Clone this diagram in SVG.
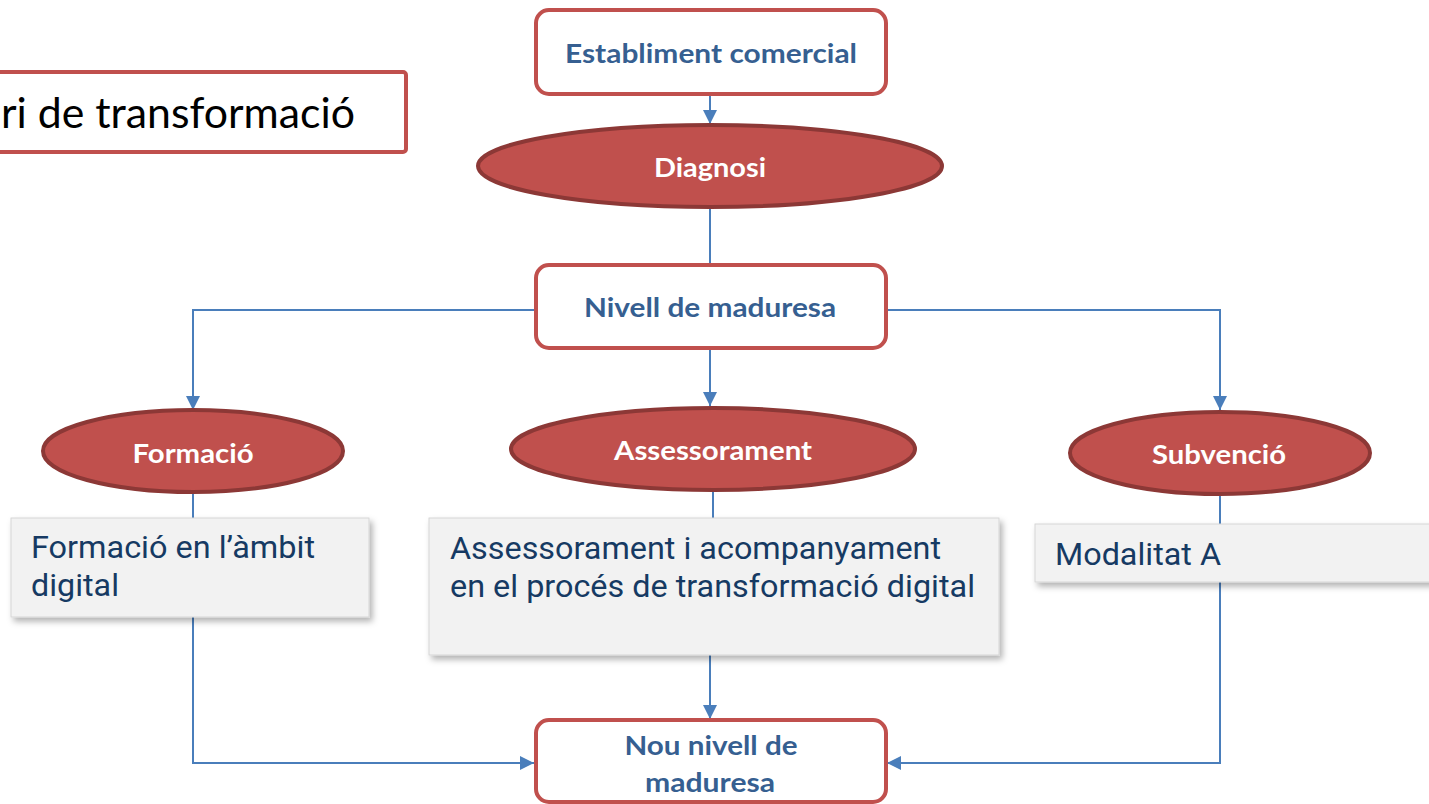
<svg xmlns="http://www.w3.org/2000/svg" width="1429" height="804" viewBox="0 0 1429 804">
<defs>
<style>
.rbox{fill:#ffffff;stroke:#C0504D;stroke-width:4}
.ell{fill:#C0504D;stroke:#8C3836;stroke-width:4}
.gbox{fill:#F2F2F2;stroke:#D6D6D6;stroke-width:1;filter:url(#sh)}
.lbl{font-family:Lato,"Open Sans","Liberation Sans",sans-serif;font-weight:bold;font-size:27px;fill:#365F91;text-anchor:middle}
.elbl{font-family:Lato,"Open Sans","Liberation Sans",sans-serif;font-weight:bold;font-size:27px;fill:#ffffff;text-anchor:middle}
.body{font-family:Roboto,"Liberation Sans",sans-serif;font-size:31px;fill:#163A63}
.title{font-family:Lato,"Open Sans","Liberation Sans",sans-serif;font-size:43px;fill:#000000}
.con{fill:none;stroke:#4A7EBB;stroke-width:2}
</style>
<marker id="arr" markerUnits="userSpaceOnUse" markerWidth="16" markerHeight="16" viewBox="0 0 16 16" refX="15" refY="8" orient="auto">
<path d="M1,1 L15,8 L1,15 Z" fill="#4A7EBB"/>
</marker>
<filter id="sh" x="-10%" y="-20%" width="125%" height="150%">
<feDropShadow dx="3" dy="4" stdDeviation="3" flood-color="#000000" flood-opacity="0.3"/>
</filter>
</defs>
<rect width="1429" height="804" fill="#ffffff"/>

<g id="title">
<rect class="rbox" x="-10" y="72" width="416" height="80" rx="3"/>
<text class="title" x="1" y="128" textLength="354" lengthAdjust="spacingAndGlyphs">ri de transformació</text>
</g>

<g id="connectors">
<path class="con" d="M710,94 V124" marker-end="url(#arr)"/>
<path class="con" d="M710,208 V265"/>
<path class="con" d="M535,310 H193 V410" marker-end="url(#arr)"/>
<path class="con" d="M710,348 V406" marker-end="url(#arr)"/>
<path class="con" d="M886,310 H1220 V410" marker-end="url(#arr)"/>
<path class="con" d="M193,493 V518"/>
<path class="con" d="M713,491 V518"/>
<path class="con" d="M1220,495 V524"/>
<path class="con" d="M193,617 V763 H534" marker-end="url(#arr)"/>
<path class="con" d="M710,655 V719" marker-end="url(#arr)"/>
<path class="con" d="M1220,582 V763 H887" marker-end="url(#arr)"/>
</g>

<g id="establiment">
<rect class="rbox" x="536" y="10" width="350" height="84" rx="13"/>
<text class="lbl" x="711" y="63" textLength="292" lengthAdjust="spacingAndGlyphs">Establiment comercial</text>
</g>

<g id="diagnosi">
<ellipse class="ell" cx="710" cy="166" rx="232" ry="41"/>
<text class="elbl" x="710" y="177" textLength="112" lengthAdjust="spacingAndGlyphs">Diagnosi</text>
</g>

<g id="nivell">
<rect class="rbox" x="536" y="265" width="350" height="83" rx="13"/>
<text class="lbl" x="710" y="317" textLength="252" lengthAdjust="spacingAndGlyphs">Nivell de maduresa</text>
</g>

<g id="formacio">
<ellipse class="ell" cx="193" cy="451" rx="150" ry="41"/>
<text class="elbl" x="193" y="463" textLength="121" lengthAdjust="spacingAndGlyphs">Formació</text>
</g>

<g id="assessorament">
<ellipse class="ell" cx="713" cy="449" rx="202" ry="41"/>
<text class="elbl" x="713" y="460" textLength="198" lengthAdjust="spacingAndGlyphs">Assessorament</text>
</g>

<g id="subvencio">
<ellipse class="ell" cx="1220" cy="453" rx="150" ry="41"/>
<text class="elbl" x="1219" y="464" textLength="134" lengthAdjust="spacingAndGlyphs">Subvenció</text>
</g>

<g id="formacio-ambit">
<rect class="gbox" x="11" y="518" width="358" height="99"/>
<text class="body" x="31" y="558" textLength="284" lengthAdjust="spacingAndGlyphs">Formació en l’àmbit</text>
<text class="body" x="31" y="596" textLength="88" lengthAdjust="spacingAndGlyphs">digital</text>
</g>

<g id="assessorament-proces">
<rect class="gbox" x="429" y="518" width="570" height="137"/>
<text class="body" x="450" y="559" textLength="491" lengthAdjust="spacingAndGlyphs">Assessorament i acompanyament</text>
<text class="body" x="450" y="597" textLength="525" lengthAdjust="spacingAndGlyphs">en el procés de transformació digital</text>
</g>

<g id="modalitat">
<rect class="gbox" x="1035" y="524" width="420" height="58"/>
<text class="body" x="1055" y="565" textLength="166" lengthAdjust="spacingAndGlyphs">Modalitat A</text>
</g>

<g id="nou-nivell">
<rect class="rbox" x="536" y="720" width="350" height="82" rx="13"/>
<text class="lbl" x="711" y="755" textLength="173" lengthAdjust="spacingAndGlyphs">Nou nivell de</text>
<text class="lbl" x="710" y="792" textLength="130" lengthAdjust="spacingAndGlyphs">maduresa</text>
</g>
</svg>
